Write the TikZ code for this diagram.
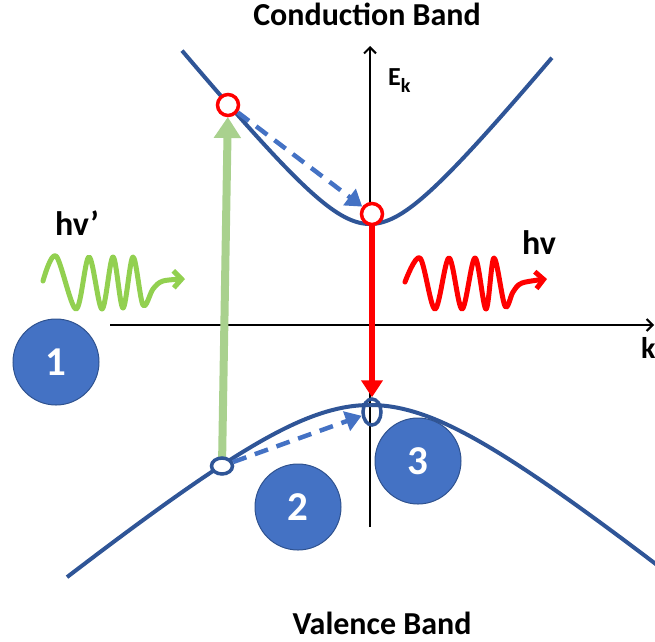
\documentclass[tikz,border=0pt]{standalone}
\usepackage{fontspec}
\setmainfont{Carlito}
\usetikzlibrary{arrows.meta,shapes.geometric}
\definecolor{bandblue}{HTML}{2F5597}
\definecolor{circblue}{HTML}{4472C4}
\definecolor{circedge}{HTML}{2F528F}
\definecolor{lgreen}{HTML}{A9D18E}
\definecolor{wgreen}{HTML}{92D050}
\definecolor{dblue}{HTML}{4472C4}
\tikzset{
  axisline/.style={line width=2pt, -{Straight Barb[length=6pt,width=12pt]}},
  bandline/.style={draw=bandblue, line width=4pt},
  hole/.style={circle, draw=red, line width=3.5pt, fill=white, minimum size=21pt, inner sep=0pt},
  vhole/.style={ellipse, draw=bandblue, line width=3.5pt, inner sep=0pt},
  numcirc/.style={circle, fill=circblue, draw=circedge, line width=1pt, minimum size=86pt, inner sep=0pt, text=white, font=\bfseries\fontsize{41}{41}\selectfont},
  dasharrow/.style={draw=dblue, line width=4.5pt, dash pattern=on 14pt off 9pt, -{Triangle[length=16pt,width=20pt]}},
  wave/.style={line width=5pt, line cap=round, line join=round, -{Straight Barb[length=8pt,width=17pt]}},
  lbl/.style={font=\bfseries\fontsize{32}{36}\selectfont, inner sep=0pt}
}
\begin{document}
\begin{tikzpicture}[x=1pt,y=-1pt]
\useasboundingbox (0,0) rectangle (655,641);
% axes
\coordinate (xs) at (110,325);
\coordinate (xe) at (654,325);
\coordinate (ys) at (370,527);
\coordinate (ye) at (370,46);
\draw[axisline] (xs) -- (xe);
\draw[axisline] (ys) -- (ye);
% bands
\draw[bandline] plot[domain=-1.88:1.82, samples=120, smooth] ({370+100*\x},{224-100*(sqrt(0.4225+1.4884*\x*\x)-0.65)});
\draw[bandline] plot[domain=-3.03:2.86, samples=140, smooth] ({370+100*\x},{405+100*(sqrt(0.8281+0.664*\x*\x)-0.91)});
% positions
\coordinate (p1) at (228,105);
\coordinate (p2) at (372,214);
\coordinate (q1) at (222,466);
\coordinate (q2) at (372,412);
% green excitation arrow
\draw[draw=lgreen, line width=8pt, shorten >=12pt, -{Triangle[length=21pt,width=26pt]}] (q1) -- (p1);
% holes / electrons
\node[hole] (c1) at (p1) {};
\node[hole] (c2) at (p2) {};
\node[vhole, fill=white, minimum width=21pt, minimum height=16pt] (v1) at (q1) {};
\node[vhole, minimum width=18pt, minimum height=26pt] (v2) at (q2) {};
% red recombination
\draw[draw=red, line width=6pt, -{Triangle[length=17pt,width=21pt]}] (c2.south) -- (v2.north);
% dashed relaxations
\draw[dasharrow] (c1) -- (c2);
\draw[dasharrow] (v1) -- (v2);
% waves
\draw[wave, draw=wgreen] plot[smooth, tension=0.55] coordinates {(43,281) (56,256) (76,309) (89,257) (102,309) (113,257) (123,308) (133,257) (143,305) (153,289) (163,281) (185,279)};
\draw[wave, draw=red] plot[smooth, tension=0.55] coordinates {(405,282) (420,258) (435,309) (449,258) (462,309) (475,258) (486,309) (494,258) (505,306) (513,292) (522,283) (547,279)};
% numbered circles
\node[numcirc] (n1) at (56,362) {1};
\node[numcirc] (n2) at (298,507) {2};
\node[numcirc] (n3) at (418,461) {3};
% labels
\node[lbl, anchor=base] (cb) at (367,25) {Conduction Band};
\node[lbl, anchor=base] (vb) at (382,634) {Valence Band};
\node[lbl, anchor=base west, font=\bfseries\fontsize{34}{36}\selectfont] (hv1) at (55,235) {hv’};
\node[lbl, anchor=base west, font=\bfseries\fontsize{34}{36}\selectfont] (hv2) at (522,254) {hv};
\node[lbl, anchor=base west, font=\bfseries\fontsize{26}{30}\selectfont] (ek) at (388,85) {E\raisebox{-7pt}{\fontsize{20}{20}\selectfont k}};
\node[lbl, anchor=base west, font=\bfseries\fontsize{30}{32}\selectfont] (kl) at (641,358) {k};
\end{tikzpicture}
\end{document}
